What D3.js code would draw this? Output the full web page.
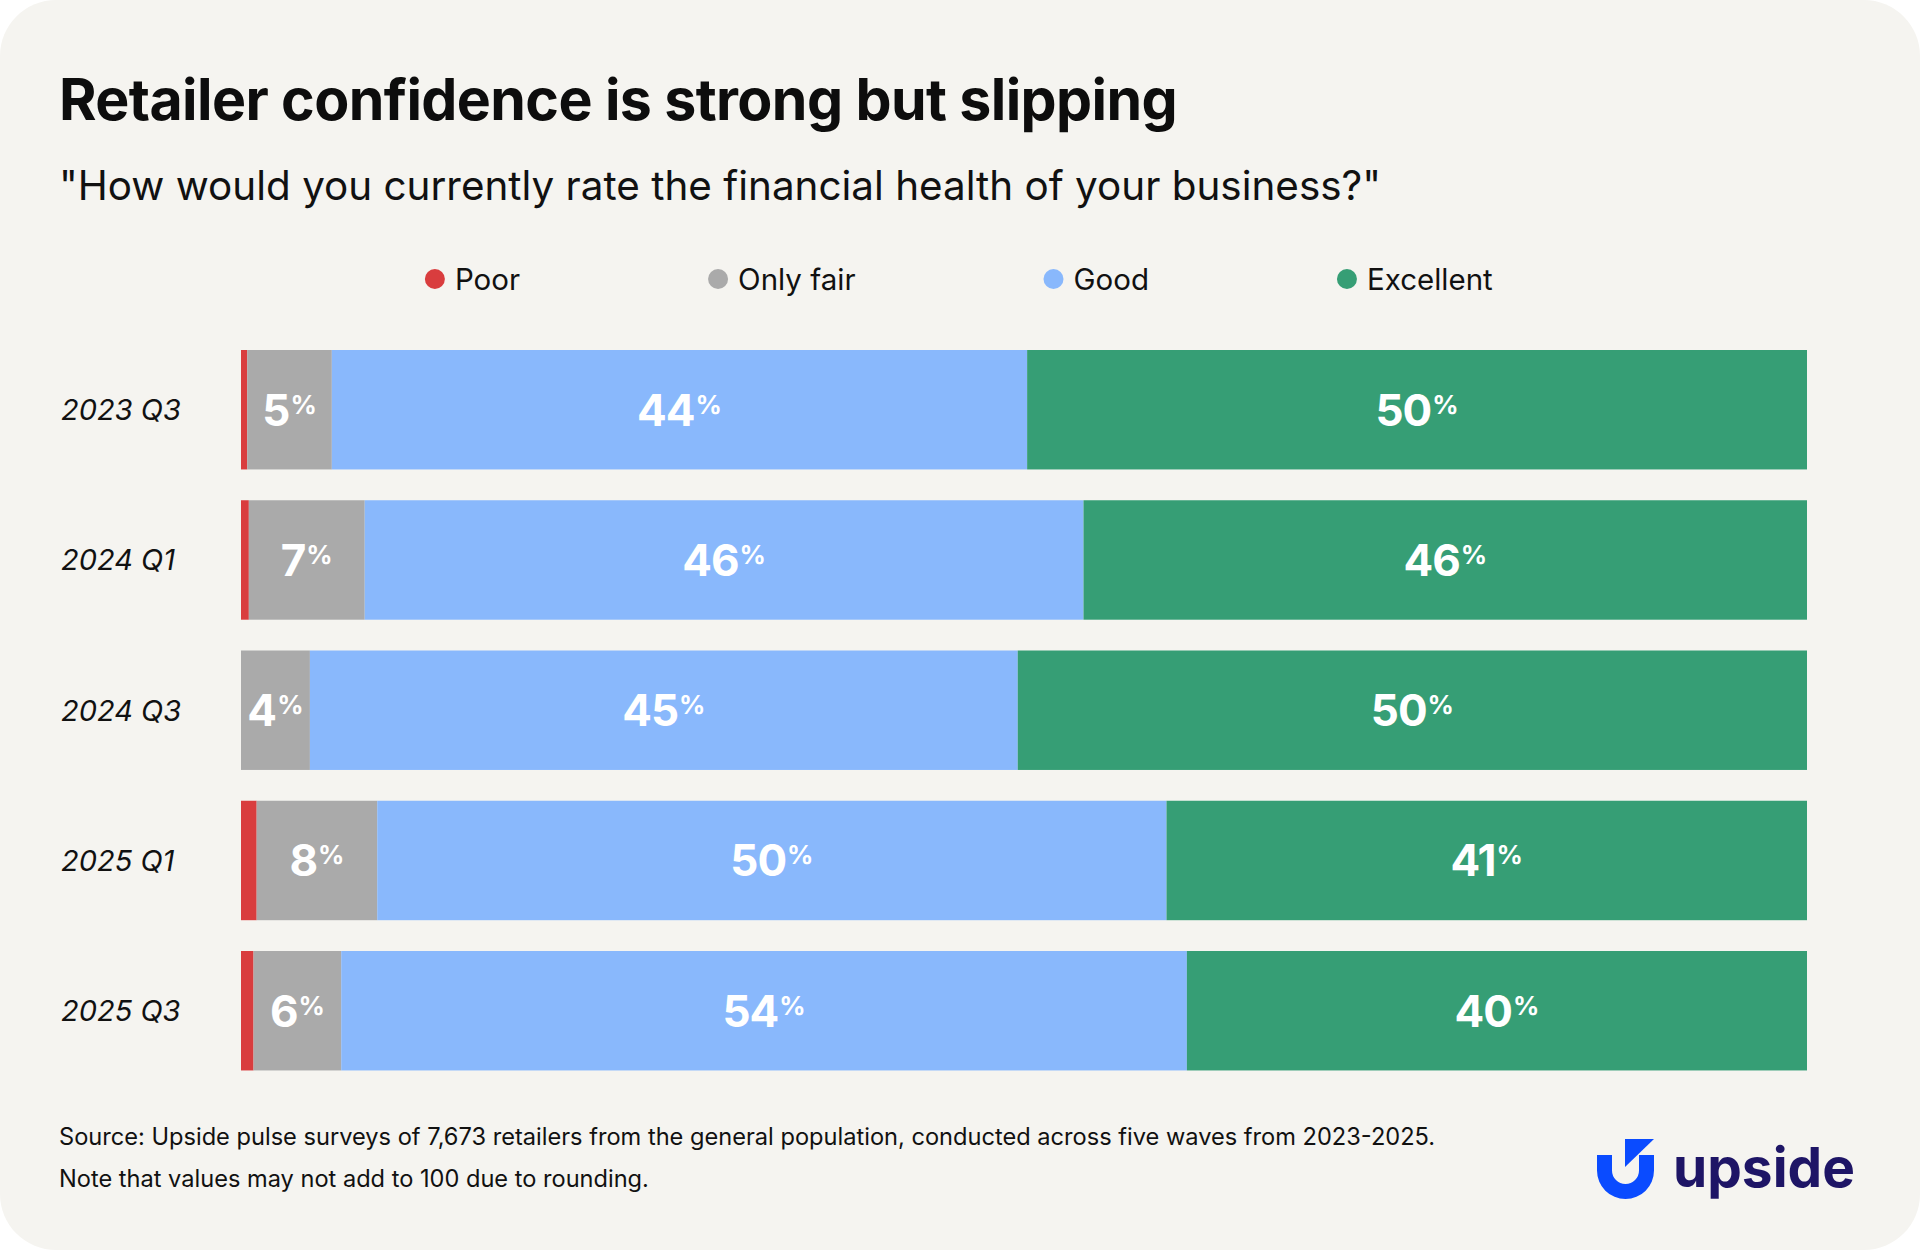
<!DOCTYPE html>
<html>
<head>
<meta charset="utf-8">
<script src="https://cdn.jsdelivr.net/npm/d3@7"></script>
<style>
html,body{margin:0;padding:0;background:#ffffff;}
svg{display:block;}
text{font-family:Inter,"Noto Sans",sans-serif;}
</style>
</head>
<body>
<svg id="chart" width="1920" height="1250"></svg>
<script>
// ---- data ----
const categories = ["2023 Q3", "2024 Q1", "2024 Q3", "2025 Q1", "2025 Q3"];
const seriesNames = ["Poor", "Only fair", "Good", "Excellent"];
const poor      = [0.4, 0.5, 0.0, 1.0, 0.8];
const onlyFair  = [5.4, 7.4, 4.4, 7.7, 5.6];
const good      = [44.4, 45.9, 45.2, 50.4, 54.0];
const excellent = [49.8, 46.2, 50.4, 40.9, 39.6];
const labeledSeries = ["Only fair", "Good", "Excellent"];
const titleText = "Retailer confidence is strong but slipping";
const subtitleText = "\"How would you currently rate the financial health of your business?\"";
const footerLines = [
  "Source: Upside pulse surveys of 7,673 retailers from the general population, conducted across five waves from 2023-2025.",
  "Note that values may not add to 100 due to rounding."
];
const brandText = "upside";

// ---- styles ----
const colors = {"Poor": "#d93d3e", "Only fair": "#aaaaaa", "Good": "#89b8fc", "Excellent": "#369e75"};
const W = 1920, H = 1250;
const svg = d3.select("#chart");

svg.append("rect").attr("x", 0).attr("y", 0).attr("width", W).attr("height", H)
  .attr("rx", 56).attr("ry", 56).attr("fill", "#f5f4f0");

function fitWidth(sel, target) {
  const size = parseFloat(sel.attr("font-size"));
  const w = sel.node().getComputedTextLength();
  const ns = size * target / w;
  sel.attr("font-size", ns.toFixed(2));
  return ns;
}

// Title
const title = svg.append("text").attr("x", 59).attr("y", 120)
  .attr("font-size", 57).attr("font-weight", 700).attr("fill", "#0d0d0d")
  .attr("letter-spacing", "-0.6").text(titleText);
fitWidth(title, 1118);

// Subtitle
const sub = svg.append("text").attr("x", 59).attr("y", 200)
  .attr("font-size", 38).attr("font-weight", 400).attr("fill", "#111").text(subtitleText);
fitWidth(sub, 1322);

// ---- table / stack ----
const table = categories.map((c, i) => ({
  category: c, "Poor": poor[i], "Only fair": onlyFair[i], "Good": good[i], "Excellent": excellent[i]
}));
const stacked = d3.stack().keys(seriesNames)(table);

const x = d3.scaleLinear().domain([0, 100]).range([241, 1807]);
const y = d3.scaleBand().domain(categories).range([334.6, 1085.85]).paddingInner(0.205).paddingOuter(0.1025);

// bars
const layers = svg.append("g").selectAll("g").data(stacked).join("g")
  .attr("fill", d => colors[d.key]);
layers.selectAll("rect").data(d => d).join("rect")
  .attr("x", d => x(d[0]))
  .attr("width", d => Math.max(0, x(d[1]) - x(d[0])))
  .attr("y", d => y(d.data.category))
  .attr("height", y.bandwidth());

// value labels
const labelLayers = svg.append("g").selectAll("g")
  .data(stacked.filter(s => labeledSeries.includes(s.key))).join("g");
labelLayers.selectAll("text").data(d => d).join("text")
  .attr("x", d => (x(d[0]) + x(d[1])) / 2)
  .attr("y", d => y(d.data.category) + y.bandwidth() / 2 + 16)
  .attr("text-anchor", "middle")
  .attr("fill", "#ffffff")
  .attr("font-weight", 700)
  .each(function(d) {
    const t = d3.select(this);
    t.append("tspan").attr("font-size", 44).attr("letter-spacing", "-1").text(Math.round(d[1] - d[0]));
    t.append("tspan").attr("font-size", 26).attr("dx", 1).attr("dy", -12).text("%");
  });

// category axis
const yAxis = svg.append("g").attr("transform", "translate(61,0)")
  .call(d3.axisLeft(y).tickSize(0).tickPadding(0));
yAxis.select(".domain").remove();
yAxis.selectAll("text")
  .attr("x", 0).attr("dy", "0.36em")
  .attr("text-anchor", "start")
  .attr("font-family", "Inter, sans-serif")
  .attr("font-size", 29).attr("font-style", "italic").attr("fill", "#111");

// legend
const legend = svg.append("g");
let lx = 0;
seriesNames.forEach(name => {
  const item = legend.append("g").attr("transform", `translate(${lx},279)`);
  item.append("circle").attr("cx", 0).attr("cy", 0).attr("r", 10).attr("fill", colors[name]);
  const t = item.append("text").attr("x", 20).attr("y", 11).attr("font-size", 29.5).attr("fill", "#111").text(name);
  lx += 20 + t.node().getComputedTextLength() + 198;
});
const lb = legend.node().getBBox();
legend.attr("transform", `translate(${959 - (lb.x + lb.width / 2)},0)`);

// footer
let footSize = 23.5;
footerLines.forEach((line, i) => {
  const t = svg.append("text").attr("x", 59).attr("y", 1145 + i * 42)
    .attr("font-size", footSize).attr("fill", "#111").text(line);
  if (i === 0) footSize = fitWidth(t, 1376);
});

// logo
const logo = svg.append("g");
const p = d3.path();
p.moveTo(1597, 1155);
p.lineTo(1597, 1170.5);
p.arc(1625.5, 1170.5, 28.5, Math.PI, 0, true);
p.lineTo(1654, 1155);
p.lineTo(1639, 1155);
p.lineTo(1639, 1170.5);
p.arc(1625.5, 1170.5, 13.5, 0, Math.PI, false);
p.lineTo(1612, 1155);
p.closePath();
logo.append("path").attr("d", p.toString()).attr("fill", "#0a4bff");
const tri = d3.path();
tri.moveTo(1625, 1139); tri.lineTo(1654, 1139); tri.lineTo(1625, 1167); tri.closePath();
logo.append("path").attr("d", tri.toString()).attr("fill", "#0a4bff");
const brand = logo.append("text").attr("x", 1673).attr("y", 1187)
  .attr("font-size", 57).attr("font-weight", 700).attr("fill", "#1e1566").text(brandText);
fitWidth(brand, 182);
</script>
</body>
</html>
